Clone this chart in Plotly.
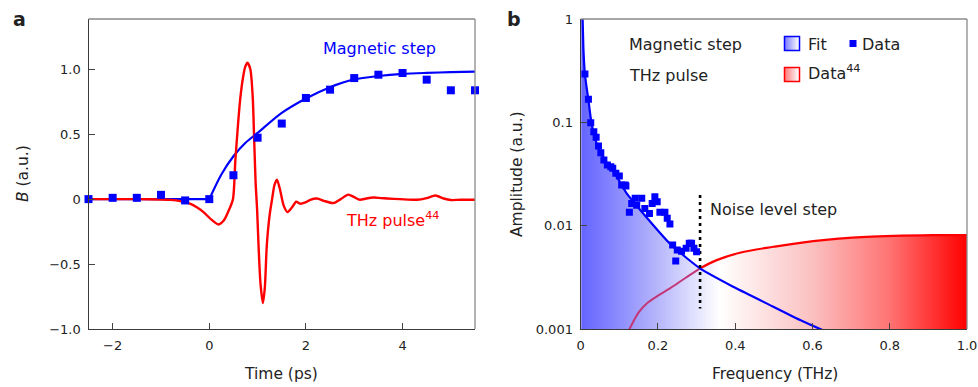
import numpy as np
import plotly.graph_objects as go

# ---------------- Panel a data ----------------
step_t = [-2.5, -2.0, -1.5, -1.0, -0.5, 0.0, 0.5, 1.0, 1.5, 2.0, 2.5, 3.0, 3.5, 4.0, 4.5, 5.0, 5.5]
step_B = [0.0, 0.01, 0.01, 0.033, -0.01, 0.0, 0.184, 0.473, 0.582, 0.779, 0.843, 0.932, 0.958, 0.971, 0.92, 0.838, 0.838]

fit_flat_t = [-2.5, 0.0]
fit_flat_B = [0.0, 0.0]
fit_rise_t = [0.0, 0.25, 0.5, 0.75, 1.0, 1.5, 2.0, 2.5, 3.0, 3.5, 4.0, 4.5, 5.0, 5.5]
fit_rise_B = [0.0, 0.19, 0.33, 0.434, 0.51, 0.664, 0.775, 0.862, 0.922, 0.948, 0.964, 0.972, 0.978, 0.982]

thz_t = [-2.5, -1.5, -1.0, -0.8, -0.6, -0.4, -0.25, -0.12, 0.05, 0.19, 0.3, 0.4, 0.49, 0.54, 0.6, 0.64,
         0.70, 0.745, 0.79, 0.85, 0.90, 0.93, 0.96, 0.99, 1.02, 1.06, 1.11, 1.15, 1.19, 1.25, 1.30,
         1.35, 1.40, 1.46, 1.54, 1.62, 1.71, 1.80, 1.88, 1.99, 2.09, 2.23, 2.37, 2.57, 2.72, 2.88,
         3.0, 3.12, 3.25, 3.40, 3.55, 3.68, 3.95, 4.30, 4.50, 4.68, 4.85, 5.0, 5.2, 5.5]
thz_B = [0.0, 0.0, -0.003, -0.006, -0.015, -0.035, -0.065, -0.10, -0.16, -0.195, -0.165, -0.09, 0.0, 0.30, 0.60, 0.77,
         0.94, 1.02, 1.05, 1.0, 0.78, 0.45, 0.12, -0.08, -0.36, -0.65, -0.80, -0.68, -0.36, -0.12, 0.0,
         0.11, 0.15, 0.08, -0.05, -0.10, -0.065, -0.02, -0.035, -0.025, -0.005, 0.005, -0.013, -0.03, 0.0, 0.035,
         0.015, -0.005, 0.005, 0.012, 0.008, 0.005, 0.0, -0.005, 0.008, 0.028, 0.005, -0.007, -0.005, -0.005]

# ---------------- Panel b data ----------------
spec_f = [0.011, 0.020, 0.026, 0.034, 0.040, 0.046, 0.052, 0.060, 0.069, 0.078, 0.083, 0.091, 0.100,
          0.106, 0.115, 0.117, 0.126, 0.132, 0.141, 0.145, 0.158, 0.166, 0.178, 0.185, 0.192, 0.198,
          0.205, 0.218, 0.224, 0.231, 0.238, 0.246, 0.250, 0.261, 0.273, 0.281, 0.287, 0.293, 0.300]
spec_A = [0.293, 0.167, 0.099, 0.081, 0.0716, 0.059, 0.0508, 0.0432, 0.0386, 0.0372, 0.0359, 0.0321, 0.0302,
          0.0247, 0.0247, 0.0242, 0.01345, 0.0164, 0.0184, 0.0158, 0.0184, 0.0147, 0.0131, 0.0164, 0.019, 0.017,
          0.01345, 0.01345, 0.01177, 0.01035, 0.00649, 0.00454, 0.0058, 0.00567, 0.00603, 0.00674, 0.00674, 0.00603, 0.00559]

fitb_f = [0.0015, 0.003, 0.005, 0.007, 0.011, 0.020, 0.028, 0.041, 0.063, 0.093, 0.119, 0.154, 0.231,
          0.309, 0.395, 0.481, 0.568, 0.620, 0.660]
fitb_A = [3.0, 1.3, 1.0, 0.52, 0.29, 0.164, 0.098, 0.063, 0.043, 0.030, 0.0205, 0.0142, 0.0067,
          0.00386, 0.00256, 0.00177, 0.00122, 0.001, 0.00088]

thzb_f = [0.118, 0.126, 0.150, 0.171, 0.200, 0.231, 0.270, 0.309, 0.352, 0.412, 0.499, 0.602, 0.740, 0.912, 1.0]
thzb_A = [0.0009, 0.001, 0.00145, 0.00177, 0.0021, 0.00247, 0.0031, 0.00386, 0.00464, 0.00547, 0.00625, 0.0071, 0.0078, 0.0081, 0.0081]

noise_f = 0.309
noise_A = [0.0198, 0.00158]

# ---------------- Geometry helpers ----------------
W, H = 978, 387
def px(x):
    return x / W
def py(y):
    return 1 - y / H

BLUE = "#0000ff"
RED = "#ff0000"
TXT = "#222222"
FONT = "DejaVu Sans"

fig = go.Figure()

# Panel a
fig.add_trace(go.Scatter(x=fit_flat_t, y=fit_flat_B, mode="lines", line=dict(color=BLUE, width=2.2),
                         xaxis="x", yaxis="y", showlegend=False))
fig.add_trace(go.Scatter(x=fit_rise_t, y=fit_rise_B, mode="lines", line=dict(color=BLUE, width=2.2, shape="spline", smoothing=0.8),
                         xaxis="x", yaxis="y", showlegend=False))
fig.add_trace(go.Scatter(x=thz_t, y=thz_B, mode="lines", line=dict(color=RED, width=2.4, shape="spline", smoothing=0.7),
                         xaxis="x", yaxis="y", showlegend=False))
fig.add_trace(go.Scatter(x=step_t, y=step_B, mode="markers", marker=dict(symbol="square", size=8, color=BLUE),
                         xaxis="x", yaxis="y", showlegend=False, cliponaxis=False))

# Panel b: gradient fill under envelope of fit and THz spectrum
grid = np.linspace(fitb_f[0], 1.0, 600)
lb = np.interp(grid, fitb_f, np.log10(fitb_A), right=-4)
lr = np.interp(grid, thzb_f, np.log10(thzb_A), left=-4)
env = 10 ** np.maximum(lb, lr)
poly_x = np.concatenate([grid, [1.0, grid[0]]])
poly_y = np.concatenate([env, [1e-3, 1e-3]])
fig.add_trace(go.Scatter(
    x=poly_x, y=poly_y, mode="lines", line=dict(width=0), fill="toself",
    fillgradient=dict(type="horizontal", start=0, stop=1,
                      colorscale=[[0.0, "rgb(100,100,255)"], [0.2, "rgb(182,182,252)"],
                                  [0.36, "rgb(255,255,255)"], [0.6, "rgb(251,192,192)"],
                                  [0.8, "rgb(255,115,115)"], [1.0, "rgb(255,0,0)"]]),
    xaxis="x2", yaxis="y2", showlegend=False, hoverinfo="skip"))

tf = np.array(thzb_f); ta = np.array(thzb_A)
m1 = tf <= noise_f + 1e-9
m2 = tf >= noise_f - 1e-9
fig.add_trace(go.Scatter(x=tf[m1], y=ta[m1], mode="lines", line=dict(color="rgb(195,55,120)", width=2, shape="spline"),
                         xaxis="x2", yaxis="y2", showlegend=False))
fig.add_trace(go.Scatter(x=tf[m2], y=ta[m2], mode="lines", line=dict(color=RED, width=2.2, shape="spline"),
                         xaxis="x2", yaxis="y2", showlegend=False))
fig.add_trace(go.Scatter(x=fitb_f, y=fitb_A, mode="lines", line=dict(color=BLUE, width=2.2, shape="spline", smoothing=0.6),
                         xaxis="x2", yaxis="y2", showlegend=False))
fig.add_trace(go.Scatter(x=[noise_f, noise_f], y=noise_A, mode="lines",
                         line=dict(color="black", width=2.6, dash="3px,4px"),
                         xaxis="x2", yaxis="y2", showlegend=False))
fig.add_trace(go.Scatter(x=spec_f, y=spec_A, mode="markers", marker=dict(symbol="square", size=7, color=BLUE),
                         xaxis="x2", yaxis="y2", showlegend=False))

shapes = []
# Frame: top and right edges in lighter grey
for xr, yr in (("x", "y"), ("x2", "y2")):
    shapes.append(dict(type="line", xref=f"{xr} domain", yref=f"{yr} domain", x0=0, x1=1, y0=1, y1=1,
                       line=dict(color="#8a8a8a", width=1.3), layer="above"))
    shapes.append(dict(type="line", xref=f"{xr} domain", yref=f"{yr} domain", x0=1, x1=1, y0=0, y1=1,
                       line=dict(color="#8a8a8a", width=1.3), layer="above"))

# Legend icons: gradient squares as thin strips (paper coords)
def grad_square(x0, y0, x1, y1, col, light_rgb):
    n = 15
    w = (x1 - x0) / n
    for i in range(n):
        f = i / (n - 1)
        c = tuple(int(round(light_rgb[k] + (255 - light_rgb[k]) * f)) for k in range(3))
        shapes.append(dict(type="rect", xref="paper", yref="paper",
                           x0=px(x0 + i * w), x1=px(x0 + (i + 1) * w + 0.3), y0=py(y1), y1=py(y0),
                           line=dict(width=0), fillcolor=f"rgb{c}", layer="above"))
    shapes.append(dict(type="rect", xref="paper", yref="paper", x0=px(x0), x1=px(x1), y0=py(y1), y1=py(y0),
                       line=dict(color=col, width=1.5), fillcolor="rgba(0,0,0,0)", layer="above"))

grad_square(784.5, 36.5, 799.5, 50.5, BLUE, (110, 110, 255))
grad_square(784.5, 67.5, 799.5, 81.5, RED, (255, 110, 110))
shapes.append(dict(type="rect", xref="paper", yref="paper", x0=px(849.5), x1=px(856.5), y0=py(47), y1=py(40),
                   line=dict(width=0), fillcolor=BLUE, layer="above"))

axis_common = dict(showline=True, linecolor="#3a3a3a", linewidth=1.3, mirror=False, ticks="inside", ticklen=6,
                   tickwidth=1.3, tickcolor="#444", showgrid=False, zeroline=False, automargin=False,
                   tickfont=dict(family=FONT, size=13, color=TXT))

fig.update_layout(
    width=W, height=H, margin=dict(l=0, r=0, t=0, b=0, autoexpand=False),
    paper_bgcolor="white", plot_bgcolor="rgba(0,0,0,0)",
    font=dict(family=FONT, color=TXT),
    xaxis=dict(domain=[px(88.5), px(475)], range=[-2.5, 5.5], tickvals=[-2, 0, 2, 4],
               ticktext=["\u22122", "0", "2", "4"], anchor="y", ticklabelstandoff=4, **axis_common),
    yaxis=dict(domain=[py(329), py(19)], range=[-1.0, 1.387], tickvals=[-1, -0.5, 0, 0.5, 1.0],
               ticktext=["\u22121.0", "\u22120.5", "0", "0.5", "1.0"], anchor="x", ticklabelstandoff=4, **axis_common),
    xaxis2=dict(domain=[px(580.7), px(967)], range=[0, 1.0], tickvals=[0, 0.2, 0.4, 0.6, 0.8, 1.0],
                ticktext=["0", "0.2", "0.4", "0.6", "0.8", "1.0"], anchor="y2", ticklabelstandoff=4, **axis_common),
    yaxis2=dict(domain=[py(329), py(19)], type="log", range=[-3, 0], tickvals=[0.001, 0.01, 0.1, 1],
                ticktext=["0.001", "0.01", "0.1", "1"], anchor="x2", ticklabelstandoff=4, **axis_common),
    shapes=shapes,
)

ann = []
def txt(x, y, s, size=16, color=TXT, xanchor="left", yanchor="middle", angle=0, bold=False):
    ann.append(dict(x=x, y=y, xref="paper", yref="paper", text=(f"<b>{s}</b>" if bold else s), showarrow=False,
                    xanchor=xanchor, yanchor=yanchor, textangle=angle,
                    font=dict(family=FONT, size=size, color=color)))

txt(px(19), py(19), "a", size=19, xanchor="center", bold=True)
txt(px(514), py(19), "b", size=19, xanchor="center", bold=True)
txt(px(281), py(374), "Time (ps)", size=15.5, xanchor="center")
txt(px(775), py(374), "Frequency (THz)", size=15.5, xanchor="center")
txt(px(23), py(174), "<i>B</i> (a.u.)", size=15.5, xanchor="center", angle=-90)
txt(px(517), py(174), "Amplitude (a.u.)", size=15.5, xanchor="center", angle=-90)
txt(px(321), py(48), "Magnetic step", color=BLUE)
txt(px(344), py(219), "THz pulse<sup>44</sup>", color=RED)
txt(px(627), py(45), "Magnetic step")
txt(px(627), py(76), "THz pulse")
txt(px(806), py(44), "Fit")
txt(px(860), py(44), "Data")
txt(px(806), py(73), "Data<sup>44</sup>")
txt(px(708), py(209), "Noise level step")
fig.update_layout(annotations=ann)

fig.write_html("out.html")
